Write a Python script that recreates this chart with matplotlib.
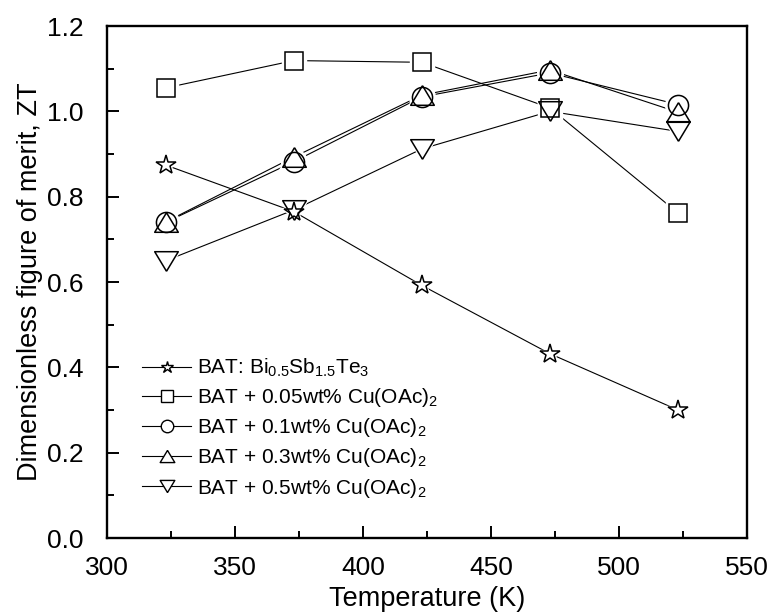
import matplotlib
matplotlib.use('Agg')
import matplotlib.pyplot as plt
from matplotlib.lines import Line2D
from matplotlib.ticker import MultipleLocator

plt.rcParams['font.family'] = ['Liberation Sans', 'DejaVu Sans']
plt.rcParams['mathtext.fontset'] = 'custom'
plt.rcParams['mathtext.rm'] = 'Liberation Sans'
plt.rcParams['mathtext.it'] = 'Liberation Sans:italic'

temperature = [323, 373, 423, 473, 523]
zt_bat = [0.874, 0.765, 0.592, 0.432, 0.300]
zt_005 = [1.055, 1.119, 1.115, 1.008, 0.762]
zt_01 = [0.740, 0.882, 1.034, 1.090, 1.016]
zt_03 = [0.741, 0.893, 1.038, 1.097, 0.998]
zt_05 = [0.650, 0.769, 0.912, 1.000, 0.953]

labels = [r'BAT: Bi$_{0.5}$Sb$_{1.5}$Te$_3$',
          r'BAT + 0.05wt% Cu(OAc)$_2$',
          r'BAT + 0.1wt% Cu(OAc)$_2$',
          r'BAT + 0.3wt% Cu(OAc)$_2$',
          r'BAT + 0.5wt% Cu(OAc)$_2$']
series = [zt_bat, zt_005, zt_01, zt_03, zt_05]

# origin-like wide triangles
tri_up = [(0, 0.83), (-1, -0.83), (1, -0.83), (0, 0.83)]
tri_dn = [(0, -0.83), (-1, 0.83), (1, 0.83), (0, -0.83)]
markers = ['*', 's', 'o', tri_up, tri_dn]
sizes = [15, 13, 14.5, 17, 17]

fig = plt.figure(figsize=(7.73, 6.15), dpi=100)
ax = fig.add_axes([0.1384, 0.1252, 0.828, 0.8325])

# lines first, then white pads so lines stop short of the symbols, then symbols
for ys in series:
    ax.plot(temperature, ys, color='black', linewidth=0.8, zorder=1)
for ys, m, s in zip(series, markers, sizes):
    ax.plot(temperature, ys, linestyle='none', marker=m, markersize=s + 4,
            markerfacecolor='white', markeredgecolor='white', zorder=2)
handles = []
for ys, m, s, lab in zip(series, markers, sizes, labels):
    ax.plot(temperature, ys, linestyle='none', marker=m, markersize=s,
            markerfacecolor='none', markeredgecolor='black',
            markeredgewidth=1.1, zorder=3)
    handles.append(Line2D([], [], color='black', linewidth=0.8, marker=m,
                          markersize=s * 0.62, markerfacecolor='white',
                          markeredgecolor='black', markeredgewidth=1.0,
                          label=lab))

ax.set_xlim(300, 550)
ax.set_ylim(0, 1.2)
ax.xaxis.set_major_locator(MultipleLocator(50))
ax.xaxis.set_minor_locator(MultipleLocator(25))
ax.yaxis.set_major_locator(MultipleLocator(0.2))
ax.yaxis.set_minor_locator(MultipleLocator(0.1))
ax.yaxis.set_major_formatter(plt.FormatStrFormatter('%.1f'))
ax.tick_params(which='both', direction='in', top=False, right=False,
               labelsize=19, width=1.4)
ax.tick_params(axis='x', which='major', pad=13)
ax.tick_params(axis='y', which='major', pad=17)
ax.tick_params(which='major', length=8.5)
ax.tick_params(which='minor', length=5)
for sp in ax.spines.values():
    sp.set_linewidth(1.7)

ax.set_xlabel('Temperature (K)', fontsize=19.5, labelpad=4)
ax.set_ylabel('Dimensionless figure of merit, ZT', fontsize=19.5, labelpad=3)

ax.legend(handles=handles, loc='upper left', bbox_to_anchor=(0.042, 0.37),
          frameon=False, fontsize=15, handlelength=2.35, handletextpad=0.3,
          labelspacing=0.34, borderaxespad=0)

fig.savefig('out.png', dpi=100)
